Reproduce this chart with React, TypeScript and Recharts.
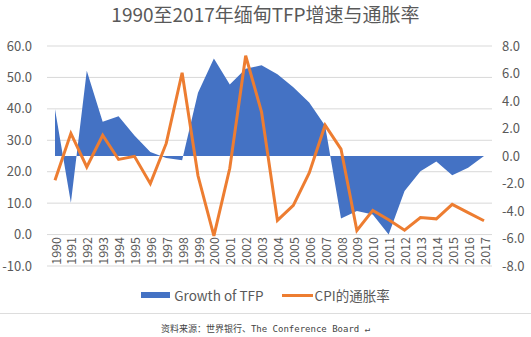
import React from 'react';
import { ComposedChart, Area, Line, XAxis, YAxis, CartesianGrid } from 'recharts';

const years = ['1990','1991','1992','1993','1994','1995','1996','1997','1998','1999','2000','2001','2002','2003','2004','2005','2006','2007','2008','2009','2010','2011','2012','2013','2014','2015','2016','2017'];
const tfpGrowth = [3.4, -3.4, 6.2, 2.5, 2.9, 1.5, 0.3, -0.15, -0.3, 4.6, 7.1, 5.2, 6.35, 6.6, 5.95, 5.0, 3.9, 2.2, -4.55, -4.0, -4.25, -5.7, -2.55, -1.1, -0.4, -1.4, -0.85, 0];
const cpiInflation = [17.3, 32.2, 21.5, 31.6, 23.9, 24.9, 16.2, 29.0, 51.5, 18.7, -0.4, 21.1, 56.9, 39.0, 4.5, 9.3, 19.6, 34.8, 27.2, 1.3, 7.7, 4.7, 1.4, 5.4, 5.0, 9.6, 7.0, 4.4];
const leftTicks = [-10, 0, 10, 20, 30, 40, 50, 60];
const rightTicks = [-8, -6, -4, -2, 0, 2, 4, 6, 8];
const titleText = '1990至2017年缅甸TFP增速与通胀率';
const tfpName = 'Growth of TFP';
const cpiName = 'CPI的通胀率';
const sourceText = '资料来源：世界银行、The Conference Board ↵';

const data = years.map((y, i) => ({ year: y, tfp: tfpGrowth[i], cpi: cpiInflation[i] }));

const FONT = '"Noto Sans CJK SC", "Noto Sans", sans-serif';
const GRAY = '#595959';

const YearTick = (props: any) => {
  const { x, payload } = props;
  return (
    <text
      transform={`translate(${x},237) rotate(-90)`}
      textAnchor="end"
      dominantBaseline="central"
      fill={GRAY}
      fontSize={12.5}
      fontFamily={FONT}
    >
      {payload.value}
    </text>
  );
};

export default function App() {
  return (
    <div style={{ position: 'absolute', left: 0, top: 0, width: 531, height: 337, background: '#fff', fontFamily: FONT }}>
      <div style={{ position: 'absolute', left: 0, top: 2, width: 531, textAlign: 'center', fontSize: 19, color: GRAY, lineHeight: '24px' }}>
        {titleText}
      </div>
      <ComposedChart width={531} height={337} data={data} margin={{ top: 46, right: 4, bottom: 41, left: 7 }}>
        <CartesianGrid vertical={false} stroke="#d9d9d9" yAxisId="left" />
        <XAxis dataKey="year" interval={0} axisLine={false} tickLine={false} height={30} padding={{ left: 8, right: 8 }} tick={<YearTick />} />
        <YAxis
          yAxisId="left"
          orientation="left"
          width={40}
          domain={[-10, 60]}
          ticks={leftTicks}
          tickFormatter={(v: number) => v.toFixed(1)}
          axisLine={false}
          tickLine={false}
          tickSize={0}
          tickMargin={15}
          tick={{ fill: GRAY, fontSize: 13, fontFamily: FONT }}
          interval={0}
        />
        <YAxis
          yAxisId="right"
          orientation="right"
          width={35}
          domain={[-8, 8]}
          ticks={rightTicks}
          tickFormatter={(v: number) => v.toFixed(1)}
          axisLine={false}
          tickLine={false}
          tickSize={0}
          tickMargin={10}
          tick={{ fill: GRAY, fontSize: 13, fontFamily: FONT, textAnchor: 'start' }}
          interval={0}
        />
        <Area
          yAxisId="right"
          type="linear"
          dataKey="tfp"
          name={tfpName}
          baseValue={0}
          stroke="none"
          fill="#4472C4"
          fillOpacity={1}
          isAnimationActive={false}
          dot={false}
          activeDot={false}
        />
        <Line
          yAxisId="left"
          type="linear"
          dataKey="cpi"
          name={cpiName}
          stroke="#ED7D31"
          strokeWidth={3}
          dot={false}
          activeDot={false}
          isAnimationActive={false}
        />
      </ComposedChart>
      <div style={{ position: 'absolute', top: 286, left: 0, width: 531, display: 'flex', justifyContent: 'center', alignItems: 'center', fontSize: 13.5, color: GRAY, lineHeight: '18px' }}>
        <span style={{ display: 'inline-block', width: 29, height: 6, background: '#4472C4', marginRight: 4 }} />
        <span style={{ marginRight: 18 }}>{tfpName}</span>
        <span style={{ display: 'inline-block', width: 31, height: 3, background: '#ED7D31', marginRight: 2 }} />
        <span>{cpiName}</span>
      </div>
      <div style={{ position: 'absolute', top: 313, left: 0, width: 531, height: 1, background: '#dddddd' }} />
      <div style={{ position: 'absolute', top: 323, left: 0, width: 531, textAlign: 'center', fontSize: 9, color: '#444', fontFamily: '"DejaVu Sans Mono", "Noto Sans CJK SC", monospace', lineHeight: '12px' }}>
        {sourceText}
      </div>
    </div>
  );
}
